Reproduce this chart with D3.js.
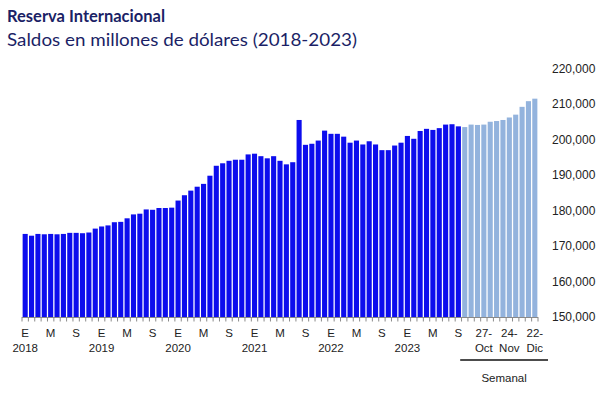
<!DOCTYPE html>
<html><head><meta charset="utf-8">
<script src="https://cdn.jsdelivr.net/npm/d3@7"></script>
<style>
html,body{margin:0;padding:0;background:#fff;}
svg{display:block;}
</style></head>
<body>
<svg id="chart" width="600" height="400"></svg>
<script>
// ---- data ----
const years = [2018, 2019, 2020, 2021, 2022, 2023];
const monthLetters = {1: "E", 5: "M", 9: "S"};
const monthlyValues = [
  173400, 172900, 173400, 173300, 173400, 173300, 173400, 173700, 173700, 173600, 173800, 174900,
  175500, 175800, 176700, 176800, 177800, 178900, 179100, 180300, 180200, 180700, 180700, 180800,
  182800, 184300, 185600, 186700, 187500, 189800, 192600, 193300, 194000, 194300, 194300, 195800,
  196000, 195300, 194700, 195300, 194000, 193000, 193600, 205500, 198500, 198800, 199700, 202500,
  201600, 201600, 200800, 199100, 199700, 198600, 199500, 198600, 197000, 197000, 198300, 199100,
  201000, 200200, 202400, 203000, 202700, 203200, 204200, 204300, 203700
];
const weeklyCategories = ["06-Oct","13-Oct","20-Oct","27-Oct","03-Nov","10-Nov","17-Nov","24-Nov","01-Dic","08-Dic","15-Dic","22-Dic"];
const weeklyValues = [203500, 204200, 204100, 204200, 205000, 205200, 205500, 206200, 207000, 209200, 210800, 211500];
const weeklyTickLabels = ["27-Oct", "24-Nov", "22-Dic"];
const yTicks = [150000, 160000, 170000, 180000, 190000, 200000, 210000, 220000];

// ---- build table ----
const rows = [];
monthlyValues.forEach((v, i) => {
  const yr = years[Math.floor(i / 12)], m = (i % 12) + 1;
  rows.push({key: yr + "-" + m, year: yr, month: m, value: v, weekly: false});
});
weeklyValues.forEach((v, i) => rows.push({key: weeklyCategories[i], value: v, weekly: true}));

const svg = d3.select("#chart");
const plotLeft = 22, plotRight = 538, plotBase = 317, plotTop = 68.5;

const x = d3.scaleBand().domain(rows.map(d => d.key)).range([plotLeft, plotRight]).paddingInner(0.2).paddingOuter(0.1);
const y = d3.scaleLinear().domain([150000, 220000]).range([plotBase, plotTop]);

// titles
svg.append("text").attr("x", 7).attr("y", 22)
  .attr("font-family", "Lato, 'Open Sans', sans-serif").attr("font-weight", "bold")
  .attr("font-size", 17.5).attr("fill", "#1b1f66")
  .attr("textLength", 158).attr("lengthAdjust", "spacingAndGlyphs")
  .text("Reserva Internacional");
svg.append("text").attr("x", 7).attr("y", 46)
  .attr("font-family", "Lato, 'Open Sans', sans-serif")
  .attr("font-size", 17.5).attr("fill", "#1b1f66")
  .attr("textLength", 350).attr("lengthAdjust", "spacingAndGlyphs")
  .text("Saldos en millones de dólares (2018-2023)");

// bars
svg.append("g").selectAll("rect").data(rows).join("rect")
  .attr("x", d => x(d.key))
  .attr("width", x.bandwidth())
  .attr("y", d => y(d.value))
  .attr("height", d => y(150000) - y(d.value))
  .attr("fill", d => d.weekly ? "#93b3dd" : "#0d0ded");

// right axis
const yAxis = d3.axisRight(y).tickValues(yTicks).tickSize(0).tickPadding(0).tickFormat(d3.format(","));
const gy = svg.append("g").attr("transform", `translate(552,0)`).call(yAxis);
gy.select(".domain").remove();
gy.selectAll("text").attr("font-family", "'Liberation Sans', Arial, sans-serif").attr("font-size", 12).attr("fill", "#222");

// bottom axis line + boundary ticks
const step = x.step();
svg.append("line").attr("x1", plotLeft).attr("x2", plotRight).attr("y1", plotBase + 0.5).attr("y2", plotBase + 0.5)
  .attr("stroke", "#8a8a8a").attr("stroke-width", 1);
const boundaries = d3.range(rows.length + 1).map(i => x(rows[0].key) - x.paddingInner() * step / 2 + i * step);
svg.append("g").selectAll("line").data(boundaries).join("line")
  .attr("x1", d => d).attr("x2", d => d).attr("y1", plotBase).attr("y2", plotBase + 4.5)
  .attr("stroke", "#8a8a8a").attr("stroke-width", 1);

// month labels
const font = "'Liberation Sans', Arial, sans-serif";
const monthRows = rows.filter(d => !d.weekly && monthLetters[d.month]);
svg.append("g").selectAll("text").data(monthRows).join("text")
  .attr("x", d => x(d.key) + x.bandwidth() / 2).attr("y", 337)
  .attr("text-anchor", "middle").attr("font-family", font).attr("font-size", 11.5).attr("fill", "#222")
  .text(d => monthLetters[d.month]);
svg.append("g").selectAll("text").data(monthRows.filter(d => d.month === 1)).join("text")
  .attr("x", d => x(d.key) + x.bandwidth() / 2).attr("y", 352)
  .attr("text-anchor", "middle").attr("font-family", font).attr("font-size", 11.5).attr("fill", "#222")
  .text(d => d.year);

// weekly labels
const wk = svg.append("g").selectAll("text").data(weeklyTickLabels).join("text")
  .attr("text-anchor", "middle").attr("font-family", font).attr("font-size", 11.5).attr("fill", "#222");
wk.each(function(lbl) {
  const cx = x(lbl) + x.bandwidth() / 2;
  const parts = lbl.split("-");
  const t = d3.select(this);
  t.append("tspan").attr("x", cx).attr("y", 337).text(parts[0] + "-");
  t.append("tspan").attr("x", cx).attr("y", 352).text(parts[1]);
});

// Semanal bracket
const wStart = x(weeklyCategories[0]) - 2;
svg.append("line").attr("x1", wStart).attr("x2", 548).attr("y1", 360).attr("y2", 360)
  .attr("stroke", "#111").attr("stroke-width", 1.5);
svg.append("text").attr("x", (wStart + 548) / 2).attr("y", 382)
  .attr("text-anchor", "middle").attr("font-family", font).attr("font-size", 11.5).attr("fill", "#222")
  .text("Semanal");
</script>
</body></html>
